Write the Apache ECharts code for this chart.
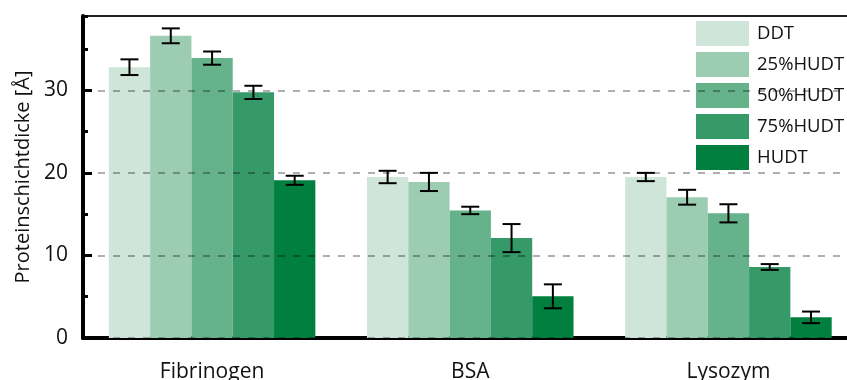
<!DOCTYPE html>
<html>
<head>
<meta charset="utf-8">
<script src="https://cdn.jsdelivr.net/npm/echarts@6/dist/echarts.min.js"></script>
<style>
html,body{margin:0;padding:0;background:#fff;}
#chart{width:847px;height:380px;}
</style>
</head>
<body>
<div id="chart"></div>
<script>
const categories = ['Fibrinogen', 'BSA', 'Lysozym'];
const seriesNames = ['DDT', '25%HUDT', '50%HUDT', '75%HUDT', 'HUDT'];
const colors = ['#cfe5d9', '#9ccdb2', '#66b38b', '#359a68', '#017f3f'];

const ddt      = [32.8, 19.5, 19.5];
const hudt25   = [36.6, 18.9, 17.05];
const hudt50   = [33.9, 15.45, 15.1];
const hudt75   = [29.75, 12.1, 8.6];
const hudt100  = [19.1, 5.05, 2.5];

const errDdt     = [0.95, 0.75, 0.5];
const errHudt25  = [0.9, 1.1, 0.9];
const errHudt50  = [0.8, 0.45, 1.1];
const errHudt75  = [0.8, 1.7, 0.35];
const errHudt100 = [0.55, 1.45, 0.7];

const yTicks = [0, 10, 20, 30];

const values = [ddt, hudt25, hudt50, hudt75, hudt100];
const errors = [errDdt, errHudt25, errHudt50, errHudt75, errHudt100];

const FONT = 'Open Sans';
const chart = echarts.init(document.getElementById('chart'));

const errData = [];
values.forEach((arr, s) => arr.forEach((v, c) => errData.push([c, s, v, errors[s][c]])));

const barSeries = seriesNames.map((name, i) => ({
  name: name,
  type: 'bar',
  data: values[i],
  barGap: '0%',
  barCategoryGap: '20%',
  itemStyle: { color: colors[i] },
  z: 2
}));

const errSeries = {
  type: 'custom',
  data: errData,
  z: 10,
  silent: true,
  renderItem: function (params, api) {
    const c = api.value(0), s = api.value(1), v = api.value(2), e = api.value(3);
    const catW = api.size([1, 0])[0];
    const bw = catW * 0.8 / 5;
    const x = api.coord([c, v])[0] + (s - 2) * bw;
    const yTop = api.coord([c, v + e])[1];
    const yBot = api.coord([c, v - e])[1];
    const hw = 9;
    const style = { stroke: '#000', lineWidth: 2 };
    return {
      type: 'group',
      children: [
        { type: 'line', shape: { x1: x, y1: yTop, x2: x, y2: yBot }, style: style },
        { type: 'line', shape: { x1: x - hw, y1: yTop, x2: x + hw, y2: yTop }, style: style },
        { type: 'line', shape: { x1: x - hw, y1: yBot, x2: x + hw, y2: yBot }, style: style }
      ]
    };
  }
};

chart.setOption({
  animation: false,
  textStyle: { fontFamily: FONT },
  grid: { left: 83, right: -10.5, top: 16, bottom: 42, containLabel: false, outerBoundsMode: 'none' },
  legend: {
    data: seriesNames,
    orient: 'vertical',
    left: 696,
    top: 21,
    padding: 0,
    itemWidth: 53,
    itemHeight: 25,
    itemGap: 6,
    icon: 'rect',
    textStyle: { fontSize: 18.5, fontFamily: FONT, color: '#111', padding: [0, 0, 0, 3] }
  },
  xAxis: [{
    type: 'category',
    data: categories,
    axisLine: { lineStyle: { color: '#000', width: 4 } },
    axisTick: { show: false },
    axisLabel: { fontSize: 21, fontFamily: FONT, color: '#111', margin: 24 }
  }, {
    type: 'category',
    data: categories,
    position: 'top',
    axisLine: { onZero: false, lineStyle: { color: '#222', width: 2 } },
    axisTick: { show: false },
    axisLabel: { show: false }
  }],
  yAxis: [{
    type: 'value',
    min: 0,
    max: 39,
    interval: 10,
    z: 5,
    name: 'Proteinschichtdicke [Å]',
    nameLocation: 'middle',
    nameGap: 50,
    nameTextStyle: { fontSize: 20, fontFamily: FONT, color: '#111' },
    axisLine: { show: true, lineStyle: { color: '#000', width: 4 } },
    axisTick: { show: true, inside: true, length: 9, lineStyle: { color: '#000', width: 3 } },
    axisLabel: {
      fontSize: 21, fontFamily: FONT, color: '#111', margin: 15, showMaxLabel: false,
      formatter: function (v) { return yTicks.indexOf(v) >= 0 ? String(v) : ''; }
    },
    splitLine: {
      show: true, showMaxLine: false,
      lineStyle: { color: 'rgba(0,0,0,0.42)', width: 1.5, type: [7, 8] }
    }
  }, {
    type: 'value',
    min: 0,
    max: 39,
    interval: 5,
    position: 'left',
    z: 5,
    axisLine: { show: false },
    axisTick: { show: true, inside: true, length: 5, lineStyle: { color: '#000', width: 3 } },
    axisLabel: { show: false },
    splitLine: { show: false }
  }],
  series: barSeries.concat([errSeries])
});
</script>
</body>
</html>
